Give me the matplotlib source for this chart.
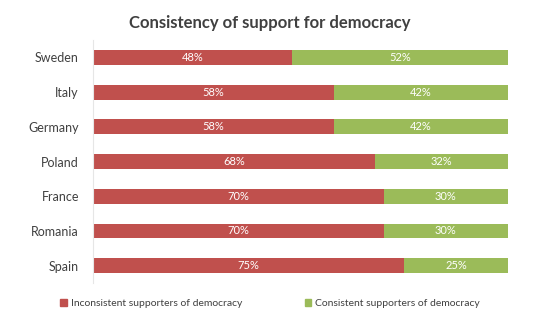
import matplotlib.pyplot as plt
from matplotlib.patches import Patch

plt.rcParams['font.family'] = ['Lato', 'DejaVu Sans']

countries = ["Sweden", "Italy", "Germany", "Poland", "France", "Romania", "Spain"]
inconsistent = [48, 58, 58, 68, 70, 70, 75]
consistent = [52, 42, 42, 32, 30, 30, 25]

red = "#C0504D"
green = "#9BBB59"
text_col = "#404040"

fig = plt.figure(figsize=(5.4, 3.25), dpi=100)
ax = fig.add_axes([0.172, 0.129, 0.769, 0.748])

y = list(range(len(countries)))
b1 = ax.barh(y, inconsistent, height=0.43, color=red)
b2 = ax.barh(y, consistent, left=inconsistent, height=0.43, color=green)

# value labels in the middle of each segment
for i in y:
    ax.text(inconsistent[i] / 2, i, f"{inconsistent[i]}%", ha="center", va="center",
            color="white", fontsize=8)
    ax.text(inconsistent[i] + consistent[i] / 2, i, f"{consistent[i]}%", ha="center",
            va="center", color="white", fontsize=8)

ax.set_xlim(0, 100)
ax.set_ylim(len(countries) - 0.5, -0.5)
ax.set_yticks(y)
ax.set_yticklabels(countries, fontsize=9, color=text_col)
ax.set_xticks([])
ax.tick_params(axis="y", length=0, pad=10)
for s in ["top", "right", "bottom"]:
    ax.spines[s].set_visible(False)
ax.spines["left"].set_color("#E6E6E6")

fig.text(0.5, 0.93, "Consistency of support for democracy", ha="center", va="center",
         fontsize=12, fontweight="bold", color=text_col)

handles = [Patch(color=red), Patch(color=green)]
fig.legend(handles, ["Inconsistent supporters of democracy", "Consistent supporters of democracy"],
           loc="center", bbox_to_anchor=(0.5, 0.065), ncol=2, frameon=False, fontsize=7.5,
           handlelength=0.6, handleheight=0.6, handletextpad=0.4, columnspacing=6,
           labelcolor=text_col)

fig.savefig("out.png", dpi=100)
